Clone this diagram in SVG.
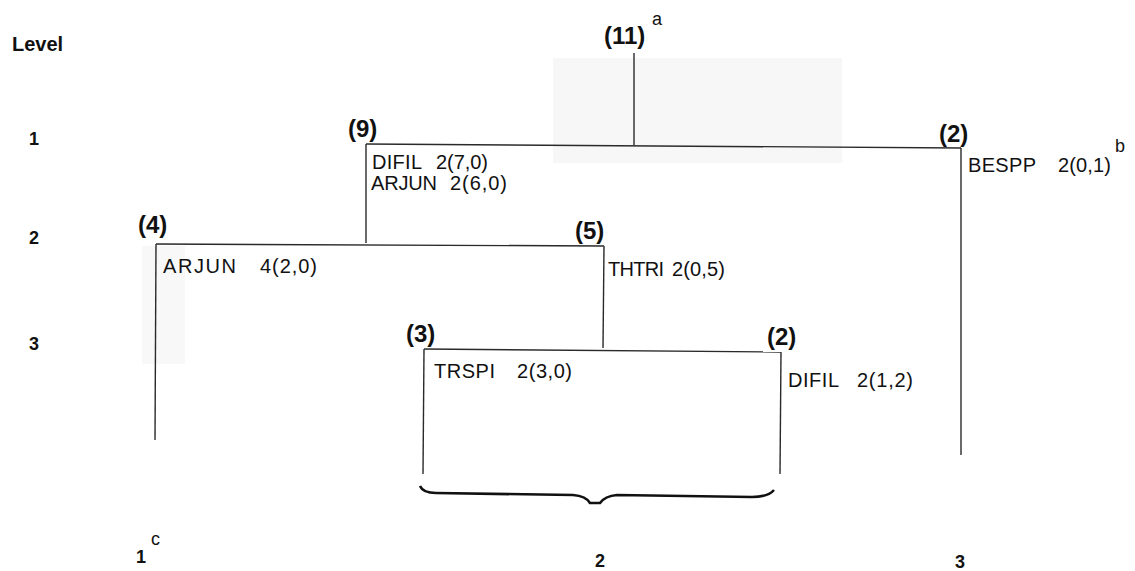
<svg xmlns="http://www.w3.org/2000/svg" width="1135" height="571" viewBox="0 0 1135 571">
<style>
.ln{stroke:#2a2a2a;stroke-width:1.4;fill:none}
.cnt{font-family:"Liberation Sans",Arial,sans-serif;font-size:24px;font-weight:bold;fill:#111}
.dat{font-family:"Liberation Sans",Arial,sans-serif;font-size:20px;fill:#111}
.lvl{font-family:"Liberation Sans",Arial,sans-serif;font-size:18px;font-weight:bold;fill:#111}
.ttl{font-family:"Liberation Sans",Arial,sans-serif;font-size:20px;font-weight:bold;fill:#111}
.sup{font-family:"Liberation Sans",Arial,sans-serif;font-size:18px;fill:#111}
</style>
<rect x="553" y="58" width="289" height="105" fill="#f7f7f7"/>
<rect x="142" y="246" width="43" height="118" fill="#f8f8f8"/>
<g id="level-labels">
<text class="ttl" x="12" y="51">Level</text>
<text class="lvl" x="29" y="145">1</text>
<text class="lvl" x="29" y="244">2</text>
<text class="lvl" x="29" y="350">3</text>
</g>
<g id="connectors">
<line class="ln" x1="634" y1="53" x2="634" y2="145"/>
<line class="ln" x1="366" y1="144" x2="961" y2="148"/>
<line class="ln" x1="366" y1="144" x2="366" y2="243"/>
<line class="ln" x1="961" y1="148" x2="961" y2="455"/>
<line class="ln" x1="156" y1="244" x2="604" y2="246"/>
<line class="ln" x1="156" y1="244" x2="155" y2="440"/>
<line class="ln" x1="604" y1="246" x2="603" y2="348"/>
<line class="ln" x1="424" y1="349" x2="781" y2="352"/>
<line class="ln" x1="424" y1="349" x2="423" y2="474"/>
<line class="ln" x1="781" y1="352" x2="780" y2="474"/>
<path d="M420 486 Q423 493 436 493 L573 495 Q586 496 590 503 L600 503 Q605 496 617 495 L752 497 Q768 497 774 490" fill="none" stroke="#111" stroke-width="2.6"/>
</g>
<g id="node-root">
<text class="cnt" x="604" y="44">(11)</text>
<text class="sup" x="652" y="25">a</text>
</g>
<g id="node-9">
<text class="cnt" x="348" y="137">(9)</text>
<text class="dat" x="372" y="169" textLength="50">DIFIL</text>
<text class="dat" x="436" y="169" textLength="52">2(7,0)</text>
<text class="dat" x="371" y="190" textLength="66">ARJUN</text>
<text class="dat" x="450" y="190" textLength="57">2(6,0)</text>
</g>
<g id="node-2-level1">
<text class="cnt" x="939" y="142">(2)</text>
<text class="dat" x="968" y="172" textLength="68">BESPP</text>
<text class="dat" x="1058" y="172" textLength="53">2(0,1)</text>
<text class="sup" x="1115" y="152">b</text>
</g>
<g id="node-4">
<text class="cnt" x="138" y="233">(4)</text>
<text class="dat" x="163" y="273" textLength="73">ARJUN</text>
<text class="dat" x="260" y="273" textLength="57">4(2,0)</text>
</g>
<g id="node-5">
<text class="cnt" x="575" y="239">(5)</text>
<text class="dat" x="608" y="276" textLength="56">THTRI</text>
<text class="dat" x="672" y="276" textLength="53">2(0,5)</text>
</g>
<g id="node-3">
<text class="cnt" x="406" y="342">(3)</text>
<text class="dat" x="434" y="378" textLength="61">TRSPI</text>
<text class="dat" x="517" y="378" textLength="55">2(3,0)</text>
</g>
<g id="node-2-level3">
<text class="cnt" x="767" y="345">(2)</text>
<text class="dat" x="788" y="387" textLength="51">DIFIL</text>
<text class="dat" x="857" y="387" textLength="56">2(1,2)</text>
</g>
<g id="groups">
<text class="lvl" x="136" y="563">1</text>
<text class="sup" x="151" y="545">c</text>
<text class="lvl" x="595" y="567">2</text>
<text class="lvl" x="955" y="568">3</text>
</g>
</svg>
